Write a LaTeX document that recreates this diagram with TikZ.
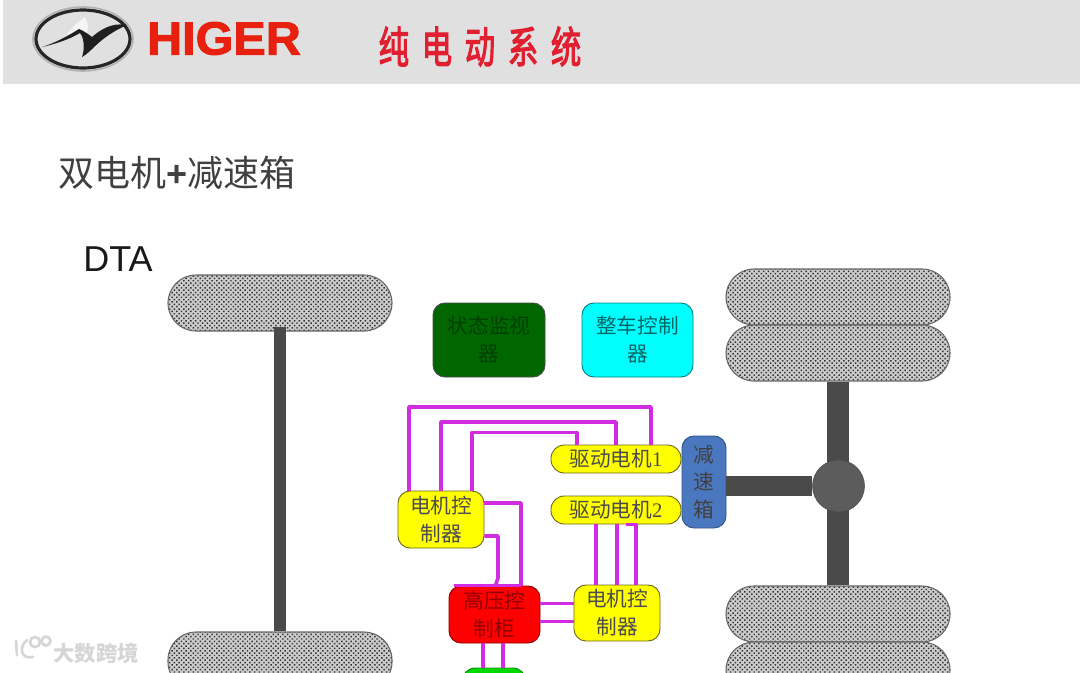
\documentclass[tikz,border=0pt]{standalone}
\usepackage{fontspec}
\setmainfont{Liberation Sans}
\newfontfamily\cjk{Noto Sans CJK SC}
\newfontfamily\cjkfat[FakeBold=3]{Noto Sans CJK SC}
\newfontfamily\heavy[FakeBold=2]{Liberation Sans Bold}
\usetikzlibrary{patterns.meta,calc}
\def\px{.75pt}
\definecolor{headgray}{HTML}{E0E0E0}
\definecolor{higerred}{HTML}{E8200F}
\definecolor{titlered}{HTML}{E02030}
\definecolor{wiremag}{HTML}{D22CE0}
\definecolor{axlegray}{HTML}{4A4A4A}
\definecolor{gearblue}{HTML}{4A78C0}
\definecolor{boxyellow}{HTML}{FFFF00}
\definecolor{vcucyan}{HTML}{00FFFF}
\tikzset{
  wheel/.style={draw=gray!80!black,line width=.8pt,rounded corners=21pt,minimum width=224*\px,minimum height=56*\px,inner sep=0pt,
    preaction={fill=gray!40},pattern={Dots[distance=2.5pt,angle=45,radius=.78pt]},pattern color=black!80},
  axle/.style={axlegray,line width=9pt},
  shaft/.style={axlegray,line width=15pt},
  wire/.style={wiremag,line width=2.7pt,line join=round},
  unit/.style={draw=#1,line width=.7pt,rounded corners=9pt,inner sep=0pt,align=center,font=\cjk\fontsize{15.5}{21}\selectfont,text=black!70},
  unit/.default=black,
  ybox/.style={unit=olive!70!black,fill=boxyellow,minimum width=86*\px,minimum height=57*\px},
  pill/.style={unit=olive!70!black,fill=boxyellow,rounded corners=10pt,minimum width=130*\px,minimum height=28*\px},
}
\begin{document}
\begin{tikzpicture}[x=.75pt,y=-.75pt]
\useasboundingbox (0,0) rectangle (1080,672);
\clip (0,0) rectangle (1080,672);
\fill[white] (0,0) rectangle (1080,672);
\fill[headgray] (3,0) rectangle (1080,84);
% logo
\draw[gray!60,line width=1.2pt] (83,39) ellipse [x radius=50,y radius=32];
\draw[black!85,line width=2.4pt] (83,39) ellipse [x radius=47,y radius=29];
\fill[white!92!gray] (85,17) -- (76,24) -- (66,35) -- (81,31) -- (87,34) -- (88,25) -- cycle;
\fill[gray!25] (80,32) -- (94,36) -- (91,47) -- (82,57) -- cycle;
\fill[black!88] (42,47) .. controls (55,44) and (68,40) .. (80,33) .. controls (84,38) and (85,48) .. (82,57) .. controls (92,52) and (98,38) .. (127,25) .. controls (112,22) and (100,30) .. (92,37) .. controls (88,34) and (84,31) .. (79,29) .. controls (68,36) and (55,43) .. (42,47) -- cycle;
\node[font=\heavy\fontsize{35}{35}\selectfont,text=higerred,inner sep=0pt] (brand) at (224,38.5) {\scalebox{1.04}[1]{HIGER}};
\node[font=\cjkfat\fontsize{24}{24}\selectfont,text=titlered,inner sep=0pt] (head) at (480,46.5) {\scalebox{.95}[1.35]{纯\hspace{10pt}电\hspace{10pt}动\hspace{10pt}系\hspace{10pt}统}};
\node[font=\cjk\fontsize{27}{27}\selectfont,text=black!75,inner sep=0pt,anchor=west] (title) at (58,173) {双电机{\fontspec{Liberation Sans Bold}+}减速箱};
\node[font=\fontsize{27}{27}\selectfont,text=black!90,inner sep=0pt,anchor=west] (dta) at (83,259) {DTA};
% wheels
\node[wheel] (wLT) at (280,303) {};
\node[wheel,minimum height=58*\px] (wLB) at (280,661) {};
\node[wheel] (wR1) at (838,297) {};
\node[wheel] (wR2) at (838,353) {};
\node[wheel] (wR3) at (838,614) {};
\node[wheel] (wR4) at (838,670) {};
\draw[axle] ([shift={(0,-5)}]wLT.south) -- (wLB.north);
% units
\node[unit=black!70,fill=green!40!black,minimum width=112*\px,minimum height=74*\px,text=green!25!black] (mon) at (489,340) {状态监视\\器};
\node[unit=teal,fill=vcucyan,minimum width=111*\px,minimum height=74*\px,text=teal!80!black] (vcu) at (637.5,340) {整车控制\\器};
\node[pill] (m1) at (616,459) {驱动电机{\fontspec{Liberation Serif}1}};
\node[pill] (m2) at (616,510) {驱动电机{\fontspec{Liberation Serif}2}};
\node[unit=gearblue!70!black,fill=gearblue,minimum width=44*\px,minimum height=92*\px,text=black!75,font=\cjk\fontsize{15.5}{20.5}\selectfont] (gear) at (704,482) {减\\速\\箱};
\node[ybox] (c1) at (441,519.5) {电机控\\制器};
\node[ybox,minimum height=56*\px] (c2) at (617,613) {电机控\\制器};
\node[unit=red!55!black,fill=red,minimum width=91*\px,minimum height=57*\px,text=red!55!black] (hv) at (494.5,614.5) {高压控\\制柜};
\node[unit=green!55!black,fill=green!85!black,rounded corners=10pt,minimum width=64*\px,minimum height=40*\px] (bat) at (494,688) {};
% drive
\draw[axle,line width=16pt] (wR2.south) -- (wR3.north);
\node[circle,fill=axlegray!90!white,draw=axlegray,minimum size=52*\px,inner sep=0pt] (hub) at (838.5,486) {};
\draw[shaft] (gear.east |- hub.west) -- (hub.west);
% wires
\draw[wire] ([shift={(-32,0)}]c1.north) |- (409.5,407) -| ([shift={(35,0)}]m1.north);
\draw[wire] (c1.north) |- (441,422) -| (m1.north);
\draw[wire] ([shift={(31,0)}]c1.north) |- (472,432.5) -| ([shift={(-39,0)}]m1.north);
\draw[wire] ([shift={(0,-16.5)}]c1.east) -| ([shift={(26.5,0)}]hv.north);
\draw[wire] ([shift={(0,16.5)}]c1.east) -| (498,578) -- ([shift={(1,0)}]hv.north);
\draw[wire] ([shift={(-41,0)}]hv.north) -- ([shift={(26.5,0)}]hv.north);
\draw[wire] ([shift={(-20,0)}]m2.south) -- ([shift={(-20,0)}]m2.south |- c2.north);
\draw[wire] ([shift={(1,0)}]m2.south) -- ([shift={(1,0)}]m2.south |- c2.north);
\draw[wire] ([shift={(10,0)}]m2.south) -| ([shift={(19,0)}]c2.north);
\draw[wire] ([shift={(0,-11)}]hv.east) -- ([shift={(0,-11)}]hv.east -| c2.west);
\draw[wire] ([shift={(0,7)}]hv.east) -- ([shift={(0,7)}]hv.east -| c2.west);
\draw[wire] ([shift={(-11.5,0)}]hv.south) -- ([shift={(-11.5,0)}]hv.south |- bat.north);
\draw[wire] ([shift={(8.5,0)}]hv.south) -- ([shift={(8.5,0)}]hv.south |- bat.north);
% watermark
\begin{scope}[gray!32,line width=2pt,line cap=round]
\draw (16,641) -- (17,655);
\draw (27,640) .. controls (19,646) and (20,660) .. (33,657);
\draw (35,642) circle [radius=5];
\draw (46,641) circle [radius=4.5];
\end{scope}
\node[font=\cjk\bfseries\fontsize{16}{16}\selectfont,text=gray!32,inner sep=0pt] (mark) at (96,653) {大数跨境};
\end{tikzpicture}
\end{document}
